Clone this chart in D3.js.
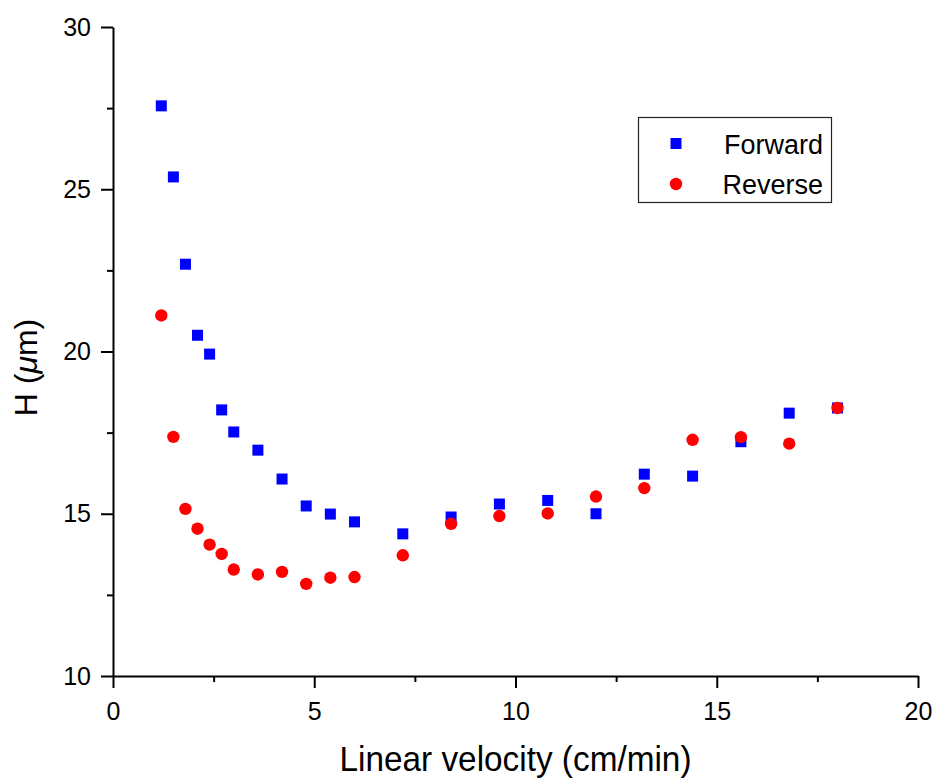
<!DOCTYPE html>
<html>
<head>
<meta charset="utf-8">
<script src="https://cdn.jsdelivr.net/npm/d3@7"></script>
<style>
  html, body { margin: 0; padding: 0; background: #fff; }
  svg { display: block; font-family: "Liberation Sans", Arial, sans-serif; }
</style>
</head>
<body>
<svg id="chart" width="936" height="780"></svg>
<script>
// Linear velocity (cm/min)
const velocity = [1.2, 1.5, 1.8, 2.1, 2.4, 2.7, 3.0, 3.6, 4.2, 4.8, 5.4, 6.0,
                  7.2, 8.4, 9.6, 10.8, 12.0, 13.2, 14.4, 15.6, 16.8, 18.0];
// H (µm), forward direction
const forwardH = [27.57, 25.38, 22.69, 20.50, 19.92, 18.20, 17.52, 16.96, 16.07, 15.24, 14.99, 14.75,
                  14.38, 14.90, 15.30, 15.41, 15.00, 16.22, 16.16, 17.22, 18.10, 18.26];
// H (µm), reverse direction
const reverseH = [21.11, 17.37, 15.15, 14.54, 14.05, 13.76, 13.28, 13.13, 13.21, 12.84, 13.03, 13.05,
                  13.72, 14.69, 14.93, 15.01, 15.53, 15.79, 17.28, 17.36, 17.16, 18.26];
const xTicks = [0, 5, 10, 15, 20];
const yTicks = [10, 15, 20, 25, 30];
const seriesNames = ["Forward", "Reverse"];

const svg = d3.select("#chart");
const x = d3.scaleLinear().domain([0, 20]).range([113, 918]);
const y = d3.scaleLinear().domain([10, 30]).range([676, 27]);

// Minor ticks (every 2.5)
const xMinor = d3.range(2.5, 20, 5);
const yMinor = d3.range(12.5, 30, 5);

const gx = svg.append("g").attr("transform", `translate(0,${y(10)})`);
gx.call(d3.axisBottom(x).tickValues(xTicks).tickFormat(d3.format("d")).tickSizeInner(12).tickSizeOuter(0).tickPadding(14));
gx.append("g").call(d3.axisBottom(x).tickValues(xMinor).tickFormat("").tickSizeInner(6).tickSizeOuter(0))
  .select(".domain").remove();

const gy = svg.append("g").attr("transform", `translate(${x(0)},0)`);
gy.call(d3.axisLeft(y).tickValues(yTicks).tickFormat(d3.format("d")).tickSizeInner(12).tickSizeOuter(0).tickPadding(10));
gy.append("g").call(d3.axisLeft(y).tickValues(yMinor).tickFormat("").tickSizeInner(6).tickSizeOuter(0))
  .select(".domain").remove();

svg.selectAll(".domain, .tick line").attr("stroke", "#000").attr("stroke-width", 2);
svg.selectAll(".tick text").attr("font-size", 25).attr("fill", "#000")
  .attr("font-family", "'Liberation Sans', Arial, sans-serif");

// Axis titles
svg.append("text")
  .attr("x", (x(0) + x(20)) / 2).attr("y", 771)
  .attr("text-anchor", "middle").attr("font-size", 35)
  .attr("textLength", 352).attr("lengthAdjust", "spacingAndGlyphs")
  .text("Linear velocity (cm/min)");

const yTitle = svg.append("text")
  .attr("transform", `translate(37,${y(20) + 16}) rotate(-90)`)
  .attr("text-anchor", "middle").attr("font-size", 32);
yTitle.append("tspan").text("H (");
yTitle.append("tspan").attr("font-style", "italic").text("\u03bc");
yTitle.append("tspan").text("m)");

// Data points
const fwd = velocity.map((v, i) => ({ v, h: forwardH[i] }));
const rev = velocity.map((v, i) => ({ v, h: reverseH[i] }));
const sq = 11;

svg.append("g").selectAll("rect").data(fwd).join("rect")
  .attr("x", d => x(d.v) - sq / 2).attr("y", d => y(d.h) - sq / 2)
  .attr("width", sq).attr("height", sq).attr("fill", "#0000ff");

svg.append("g").selectAll("circle").data(rev).join("circle")
  .attr("cx", d => x(d.v)).attr("cy", d => y(d.h)).attr("r", 6.2)
  .attr("fill", "#ff0000");

// Legend
const lg = svg.append("g");
lg.append("rect").attr("x", 638.5).attr("y", 117.5).attr("width", 193).attr("height", 85)
  .attr("fill", "#fff").attr("stroke", "#222").attr("stroke-width", 1.2);
lg.append("rect").attr("x", 676 - sq / 2).attr("y", 143.5 - sq / 2).attr("width", sq).attr("height", sq)
  .attr("fill", "#0000ff");
lg.append("circle").attr("cx", 676).attr("cy", 184).attr("r", 6.2).attr("fill", "#ff0000");
lg.selectAll("text.lab").data(seriesNames).join("text").attr("class", "lab")
  .attr("x", 823).attr("y", (d, i) => 154 + i * 40)
  .attr("text-anchor", "end").attr("font-size", 27).attr("fill", "#000")
  .text(d => d);
</script>
</body>
</html>
